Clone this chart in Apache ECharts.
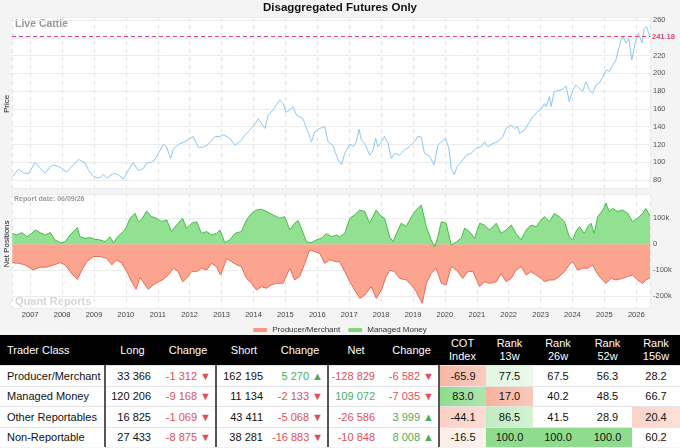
<!DOCTYPE html>
<html>
<head>
<meta charset="utf-8">
<script src="https://cdn.jsdelivr.net/npm/echarts@6/dist/echarts.min.js"></script>
<style>
body{margin:0;background:#f4f4f4;width:680px;height:448px;overflow:hidden;}
#chart{width:680px;height:335px;}
table{border-collapse:collapse;width:680px;table-layout:fixed;font-family:"Liberation Sans",Arial,sans-serif;font-size:11px;color:#111;background:#fff;}
th{background:#000;color:#fff;font-weight:normal;height:30px;line-height:13px;padding:0;text-align:center;}
td{height:19.5px;line-height:16px;padding:0;border-top:1px solid #e4e4e4;white-space:nowrap;}
.name{text-align:left;padding-left:7px;}
.num{text-align:right;padding-right:9px;}
.chg{text-align:right;padding-right:4px;}
.cen{text-align:center;}
.sep{border-left:2px solid #555;}
.neg{color:#e0505a;}
.pos{color:#4cae5a;}
</style>
</head>
<body>
<div id="chart"></div>
<table id="cot"></table>
<script>
// price, decimal years
var priceT = [
  2006.44, 2006.63, 2006.79, 2006.95,
  2007.16, 2007.31, 2007.47, 2007.63, 2007.73, 2007.89, 2007.99,
  2008.15, 2008.25, 2008.41, 2008.51, 2008.62, 2008.72, 2008.83, 2008.98,
  2009.14, 2009.30, 2009.40, 2009.61, 2009.76, 2009.92,
  2010.08, 2010.23, 2010.39, 2010.55, 2010.65, 2010.81, 2010.91,
  2011.02, 2011.17, 2011.28, 2011.40, 2011.49, 2011.69, 2011.85,
  2012.01, 2012.11, 2012.27, 2012.43, 2012.58, 2012.79, 2012.95,
  2013.05, 2013.26, 2013.42, 2013.57, 2013.78, 2013.99,
  2014.15, 2014.36, 2014.46, 2014.62, 2014.82, 2014.93,
  2015.03, 2015.14, 2015.24, 2015.35, 2015.55, 2015.71, 2015.82, 2015.92,
  2016.08, 2016.23, 2016.34, 2016.49, 2016.65, 2016.76, 2016.86,
  2017.02, 2017.12, 2017.22, 2017.31, 2017.38, 2017.49, 2017.64, 2017.75, 2017.83, 2017.90,
  2018.01, 2018.11, 2018.22, 2018.32, 2018.42, 2018.58, 2018.74, 2018.89,
  2019.05, 2019.16, 2019.26, 2019.36, 2019.52, 2019.66, 2019.78, 2019.89,
  2020.02, 2020.13, 2020.20, 2020.30, 2020.38, 2020.51, 2020.67, 2020.82, 2020.98,
  2021.14, 2021.24, 2021.35, 2021.50, 2021.66, 2021.82, 2021.92,
  2022.08, 2022.18, 2022.29, 2022.34, 2022.49, 2022.60, 2022.75, 2022.91,
  2023.01, 2023.12, 2023.17, 2023.28, 2023.33, 2023.43, 2023.59, 2023.69, 2023.80, 2023.90,
  2024.01, 2024.11, 2024.22, 2024.32, 2024.42, 2024.53, 2024.63, 2024.74, 2024.84, 2024.95,
  2025.05, 2025.15, 2025.26, 2025.36, 2025.42, 2025.52, 2025.59, 2025.68, 2025.76, 2025.86, 2025.97,
  2026.07, 2026.18, 2026.25, 2026.32, 2026.43
];
var priceV = [
  84, 92, 88, 87,
  100, 93, 87.5, 95, 97, 95, 93,
  89, 93, 99, 103, 101, 99, 91, 84,
  82, 86, 82, 87.5, 86, 81,
  91, 99.5, 90.5, 93, 99, 100, 103,
  110, 120, 117, 104, 115, 121, 123,
  127, 129, 117, 117, 120, 129, 129,
  131, 127, 119, 123, 132.5, 140,
  149, 138, 153, 159, 170, 166,
  156, 159, 162.5, 153, 149, 134, 123, 134,
  138, 140, 123, 119, 102.5, 97, 110,
  120.5, 117.5, 123, 137, 125, 121, 108, 114, 127, 117.5,
  123, 129, 121, 104, 110, 108, 114, 117.5,
  123, 129.5, 128, 110, 107, 97, 119, 123,
  127, 115, 93, 86, 95, 100, 108, 110, 115.5,
  117.5, 123, 117.5, 121, 123, 129, 138,
  142, 138, 140, 132.5, 136, 142, 151, 157,
  159, 166, 162.5, 174, 162.5, 179.5, 181, 182, 186, 168,
  181, 187, 183, 179.5, 190.5, 181, 177.5, 187, 189, 196,
  204, 202, 209, 215, 224, 237.5, 241, 234, 239, 215, 235.5,
  245, 234, 250.5, 252.5, 241.18
];
var lastPrice = 241.18;

// net positions (thousands)
var mmT = [
  2006.44, 2006.58, 2006.74, 2006.90,
  2007.05, 2007.16, 2007.31, 2007.47, 2007.63, 2007.78, 2007.94,
  2008.10, 2008.25, 2008.41, 2008.48, 2008.56, 2008.72, 2008.88,
  2009.03, 2009.19, 2009.35, 2009.50, 2009.61, 2009.76, 2009.97,
  2010.13, 2010.29, 2010.39, 2010.50, 2010.65, 2010.81, 2010.96,
  2011.12, 2011.28, 2011.43, 2011.59, 2011.78, 2011.90,
  2012.06, 2012.22, 2012.37, 2012.53, 2012.69, 2012.84, 2012.95,
  2013.10, 2013.26, 2013.42, 2013.62, 2013.78, 2013.94,
  2014.09, 2014.25, 2014.41, 2014.62, 2014.82, 2014.98,
  2015.14, 2015.29, 2015.40, 2015.50, 2015.66, 2015.82, 2015.97,
  2016.13, 2016.29, 2016.44, 2016.60, 2016.70, 2016.86,
  2017.02, 2017.17, 2017.33, 2017.49, 2017.64, 2017.85, 2017.96,
  2018.11, 2018.27, 2018.37, 2018.53, 2018.63, 2018.79, 2018.95,
  2019.10, 2019.26, 2019.31, 2019.42, 2019.57, 2019.68, 2019.78, 2019.89,
  2020.04, 2020.20, 2020.36, 2020.51, 2020.62, 2020.77, 2020.93,
  2021.09, 2021.24, 2021.40, 2021.61, 2021.76, 2021.92,
  2022.08, 2022.23, 2022.39, 2022.55, 2022.70, 2022.86,
  2023.02, 2023.12, 2023.28, 2023.43, 2023.59, 2023.75, 2023.90,
  2024.01, 2024.11, 2024.22, 2024.37, 2024.48, 2024.58, 2024.68, 2024.79, 2024.95,
  2025.05, 2025.15, 2025.26, 2025.42, 2025.57, 2025.73, 2025.88,
  2026.04, 2026.20, 2026.30, 2026.43
];
var mmNet = [
  42, 36, 45, 29,
  42, 55, 45, 36, 45, 17, 6,
  10, 36, 55, 64, 29, 23, 26,
  19, 17, 10, 29, 6, 32, 55,
  100, 119, 87, 96, 128, 106, 100,
  87, 94, 49, 74, 100, 62,
  81, 87, 42, 49, 36, 42, 55,
  6, 17, 42, 49, 94, 119,
  132, 135, 126, 113, 100, 106,
  55, 81, 91, 62, 10, 6, 17,
  23, 42, 29, 36, 29, 42,
  100, 113, 132, 126, 81, 132, 113,
  100, 29, 10, 55, 81, 68, 106,
  132, 151, 158, 68, 17, -9, 29, 87,
  81, -3, 10, 23, 62, 49, 23,
  81, 74, 55, 81, 42, 55,
  74, 42, 17, 55, 74, 68,
  94, 106, 87, 119, 106, 87, 29,
  17, 49, 68, 42, 68, 81, 42, 106, 132,
  158, 126, 138, 126, 132, 119, 87,
  100, 119, 138, 109
];
var pmT = [
  2006.44, 2006.63, 2006.84,
  2007.10, 2007.31, 2007.52, 2007.73, 2007.94,
  2008.10, 2008.25, 2008.41, 2008.48, 2008.62, 2008.77, 2008.98,
  2009.19, 2009.40, 2009.56, 2009.71, 2009.87,
  2010.03, 2010.18, 2010.32, 2010.44, 2010.60, 2010.70, 2010.86,
  2011.02, 2011.17, 2011.33, 2011.49, 2011.64, 2011.78, 2011.90,
  2012.06, 2012.22, 2012.37, 2012.53, 2012.69, 2012.84, 2012.97,
  2013.16, 2013.31, 2013.47, 2013.62, 2013.78, 2013.94,
  2014.09, 2014.25, 2014.41, 2014.56, 2014.72, 2014.93,
  2015.14, 2015.29, 2015.45, 2015.61, 2015.76, 2015.92,
  2016.08, 2016.23, 2016.39, 2016.60, 2016.70, 2016.86,
  2017.02, 2017.17, 2017.33, 2017.49, 2017.69, 2017.85,
  2018.01, 2018.16, 2018.27, 2018.42, 2018.58, 2018.79, 2018.95,
  2019.10, 2019.29, 2019.42, 2019.57, 2019.73, 2019.89,
  2020.04, 2020.20, 2020.36, 2020.56, 2020.72, 2020.88,
  2021.09, 2021.24, 2021.40, 2021.61, 2021.76, 2021.92,
  2022.08, 2022.23, 2022.39, 2022.55, 2022.70, 2022.86,
  2023.02, 2023.12, 2023.28, 2023.43, 2023.59, 2023.75, 2023.90,
  2024.01, 2024.16, 2024.32, 2024.48, 2024.63, 2024.74, 2024.89,
  2025.05, 2025.21, 2025.36, 2025.57, 2025.73, 2025.88,
  2026.04, 2026.20, 2026.30, 2026.43
];
var pmNet = [
  -71, -73, -79,
  -99, -88, -88, -79, -71,
  -79, -105, -127, -135, -99, -67, -47,
  -47, -54, -79, -60, -73,
  -105, -144, -173, -127, -156, -173, -156,
  -144, -135, -118, -92, -105, -144, -131,
  -105, -105, -92, -99, -73, -86, -118,
  -54, -67, -79, -86, -131, -150,
  -176, -163, -169, -156, -150, -150,
  -92, -137, -124, -73, -22, -28,
  -35, -73, -60, -67, -67, -105,
  -144, -176, -208, -195, -163, -208,
  -176, -124, -99, -105, -131, -137, -156,
  -182, -227, -150, -112, -92, -150,
  -156, -86, -99, -131, -105, -105,
  -163, -144, -150, -144, -112, -144,
  -131, -99, -86, -118, -105, -118,
  -131, -144, -137, -137, -124, -105, -79,
  -67, -99, -92, -92, -79, -105, -131,
  -150, -131, -137, -131, -124, -118,
  -137, -150, -137, -129
];

// table
var traderClasses = ['Producer/Merchant', 'Managed Money', 'Other Reportables', 'Non-Reportable'];
var longVals = [33366, 120206, 16825, 27433];
var longChg = [-1312, -9168, -1069, -8875];
var shortVals = [162195, 11134, 43411, 38281];
var shortChg = [5270, -2133, -5068, -16883];
var netVals = [-128829, 109072, -26586, -10848];
var netChg = [-6582, -7035, 3999, 8008];
var cotIndex = [-65.9, 83.0, -44.1, -16.5];
var rank13 = [77.5, 17.0, 86.5, 100.0];
var rank26 = [67.5, 40.2, 41.5, 100.0];
var rank52 = [56.3, 48.5, 28.9, 100.0];
var rank156 = [28.2, 66.7, 20.4, 60.2];

function toTime(t) {
  var y = Math.floor(t);
  var s = Date.UTC(y, 0, 1), e = Date.UTC(y + 1, 0, 1);
  return s + (t - y) * (e - s);
}
function pairs(ts, vs) {
  return ts.map(function (t, i) { return [toTime(t), vs[i]]; });
}
var YEAR = 365.25 * 24 * 3600 * 1000;
var tMin = toTime(2006.43), tMax = toTime(2026.43);
var FONT = 'Liberation Sans';

var myChart = echarts.init(document.getElementById('chart'));
var options = {
  useUTC: true,
  animation: false,
  backgroundColor: '#f4f4f4',
  textStyle: { fontFamily: FONT },
  title: {
    text: 'Disaggregated Futures Only',
    left: 'center', top: 2, padding: 0,
    textStyle: { fontSize: 11.5, fontWeight: 'bold', color: '#111', fontFamily: FONT }
  },
  legend: {
    top: 321, left: 'center',
    itemWidth: 14, itemHeight: 4, itemGap: 8,
    textStyle: { fontSize: 8, color: '#333', fontFamily: FONT },
    data: [
      { name: 'Producer/Merchant', icon: 'roundRect' },
      { name: 'Managed Money', icon: 'roundRect' }
    ]
  },
  grid: [
    { left: 12, right: 30, top: 17, height: 171, show: true, backgroundColor: '#fff', borderWidth: 0 },
    { left: 12, right: 30, top: 194, height: 114, show: true, backgroundColor: '#fff', borderWidth: 0 }
  ],
  xAxis: [
    {
      type: 'time', gridIndex: 0, min: tMin, max: tMax, minInterval: YEAR, maxInterval: YEAR,
      axisLine: { show: false }, axisTick: { show: false }, axisLabel: { show: false },
      splitLine: { show: true, lineStyle: { color: '#e4e4e4', type: [4, 4] } }
    },
    {
      type: 'time', gridIndex: 1, min: tMin, max: tMax, minInterval: YEAR, maxInterval: YEAR,
      axisLine: { show: false }, axisTick: { show: false },
      axisLabel: {
        fontSize: 7.5, color: '#444', margin: 3, showMinLabel: false, showMaxLabel: false,
        formatter: function (v) { return String(new Date(v).getUTCFullYear()); }
      },
      splitLine: { show: true, lineStyle: { color: '#e4e4e4', type: [4, 4] } }
    }
  ],
  yAxis: [
    {
      type: 'value', gridIndex: 0, position: 'right', min: 71, max: 263.4, splitNumber: 10,
      axisLine: { show: false }, axisTick: { show: false },
      axisLabel: {
        fontSize: 7.5, color: '#555', margin: 3, showMinLabel: false, showMaxLabel: false,
        formatter: function (v) { return v === 240 ? '' : String(v); }
      },
      splitLine: { lineStyle: { color: '#ececec' } }
    },
    {
      type: 'value', gridIndex: 1, position: 'right', min: -245, max: 193.5, splitNumber: 4,
      axisLine: { show: false }, axisTick: { show: false },
      axisLabel: {
        fontSize: 7.5, color: '#555', margin: 3, showMinLabel: false, showMaxLabel: false,
        formatter: function (v) { return v === 0 ? '0' : v + 'k'; }
      },
      splitLine: { lineStyle: { color: '#ececec' } }
    }
  ],
  graphic: [
    { type: 'text', x: 15, y: 24, style: { text: 'Live Cattle', fontSize: 10.5, fontWeight: 'bold', fill: '#999', verticalAlign: 'middle', fontFamily: FONT } },
    { type: 'text', x: 14, y: 199, style: { text: 'Report date: 06/09/26', fontSize: 7, fontWeight: 'bold', fill: '#999', verticalAlign: 'middle', fontFamily: FONT } },
    { type: 'text', x: 15, y: 302, style: { text: 'Quant Reports', fontSize: 11, fontWeight: 'bold', fill: '#d6d6d6', verticalAlign: 'middle', fontFamily: FONT } },
    { type: 'text', x: 7, y: 104, rotation: Math.PI / 2, style: { text: 'Price', fontSize: 8, fill: '#222', align: 'center', verticalAlign: 'middle', fontFamily: FONT } },
    { type: 'text', x: 7, y: 244, rotation: Math.PI / 2, style: { text: 'Net Positions', fontSize: 8, fill: '#222', align: 'center', verticalAlign: 'middle', fontFamily: FONT } }
  ],
  series: [
    {
      name: 'Price', type: 'line', xAxisIndex: 0, yAxisIndex: 0,
      data: pairs(priceT, priceV), symbol: 'none',
      lineStyle: { color: '#8cc8f2', width: 1 },
      markLine: {
        silent: true, symbol: 'none',
        data: [{ yAxis: lastPrice }],
        lineStyle: { color: '#d9476c', type: [4, 3], width: 1 },
        label: { position: 'end', formatter: String(lastPrice), color: '#d9476c', fontSize: 7.5, fontWeight: 'bold', distance: 2 }
      }
    },
    {
      name: 'Producer/Merchant', type: 'line', xAxisIndex: 1, yAxisIndex: 1,
      data: pairs(pmT, pmNet), symbol: 'none',
      itemStyle: { color: '#fa9580' },
      lineStyle: { color: '#f06a50', width: 1 },
      areaStyle: { color: '#fba48f', opacity: 1 }
    },
    {
      name: 'Managed Money', type: 'line', xAxisIndex: 1, yAxisIndex: 1,
      data: pairs(mmT, mmNet), symbol: 'none',
      itemStyle: { color: '#7fd77f' },
      lineStyle: { color: '#46bd46', width: 1 },
      areaStyle: { color: '#92e092', opacity: 1 }
    }
  ]
};
myChart.setOption(options);

// table
function fmt(n, dec) {
  var s = dec ? Math.abs(n).toFixed(dec) : String(Math.abs(n));
  var p = s.split('.');
  p[0] = p[0].replace(/\B(?=(\d{3})+(?!\d))/g, ' ');
  return (n < 0 ? '-' : '') + p.join('.');
}
function chgCell(v) {
  var c = v < 0 ? 'neg' : 'pos';
  var arrow = v < 0 ? '\u25BC' : '\u25B2';
  return '<td class="chg ' + c + '">' + fmt(v) + ' ' + arrow + '</td>';
}
function mix(rgb, a) {
  a = Math.max(0, Math.min(1, a));
  return 'rgb(' + rgb.map(function (c) { return Math.round(255 + (c - 255) * a); }).join(',') + ')';
}
var GREEN = [143, 220, 143], RED = [248, 178, 158];
function shade(rgb, a) {
  if (a <= 0) return '#fff';
  return 'linear-gradient(to right,' + mix(rgb, a) + ',' + mix(rgb, a * 0.7) + ')';
}
function cotColor(v) {
  return v >= 0 ? shade(GREEN, v / 80) : shade(RED, -v / 70);
}
function rankColor(v) {
  if (v >= 99.9) return mix(GREEN, 1);
  if (v > 70) return shade(GREEN, (v - 70) / 30);
  if (v < 25) return shade(RED, (25 - v) / 8);
  return '#fff';
}
var html = '<tr><th class="name" style="width:98px;text-align:left">Trader Class</th>' +
  '<th style="width:55px">Long</th><th style="width:56px">Change</th>' +
  '<th style="width:56px">Short</th><th style="width:56px">Change</th>' +
  '<th style="width:56px">Net</th><th style="width:55px">Change</th>' +
  '<th style="width:47px">COT<br>Index</th><th style="width:47px">Rank<br>13w</th>' +
  '<th style="width:50px">Rank<br>26w</th><th style="width:49px">Rank<br>52w</th><th>Rank<br>156w</th></tr>';
for (var i = 0; i < traderClasses.length; i++) {
  html += '<tr>' +
    '<td class="name">' + traderClasses[i] + '</td>' +
    '<td class="num sep">' + fmt(longVals[i]) + '</td>' + chgCell(longChg[i]) +
    '<td class="num sep">' + fmt(shortVals[i]) + '</td>' + chgCell(shortChg[i]) +
    '<td class="num sep ' + (netVals[i] < 0 ? 'neg' : 'pos') + '">' + fmt(netVals[i]) + '</td>' + chgCell(netChg[i]) +
    '<td class="cen sep" style="background:' + cotColor(cotIndex[i]) + '">' + fmt(cotIndex[i], 1) + '</td>' +
    '<td class="cen" style="background:' + rankColor(rank13[i]) + '">' + fmt(rank13[i], 1) + '</td>' +
    '<td class="cen" style="background:' + rankColor(rank26[i]) + '">' + fmt(rank26[i], 1) + '</td>' +
    '<td class="cen" style="background:' + rankColor(rank52[i]) + '">' + fmt(rank52[i], 1) + '</td>' +
    '<td class="cen" style="background:' + rankColor(rank156[i]) + '">' + fmt(rank156[i], 1) + '</td>' +
    '</tr>';
}
document.getElementById('cot').innerHTML = html;
</script>
</body>
</html>
